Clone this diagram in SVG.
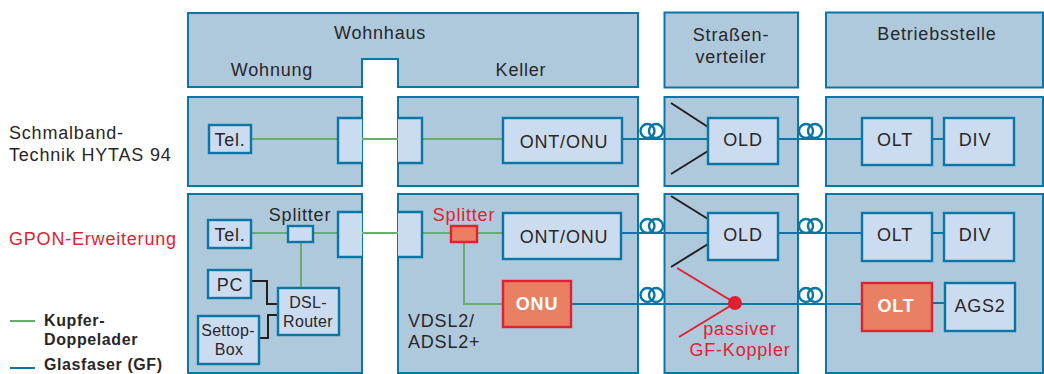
<svg xmlns="http://www.w3.org/2000/svg" width="1044" height="374" viewBox="0 0 1044 374">
<style>
text{font-family:"Liberation Sans",Arial,sans-serif;font-size:18px;letter-spacing:.8px;fill:#2a2627;text-anchor:middle}
.l{text-anchor:start}
.r{fill:#e02230}
.w{fill:#fff;font-weight:700}
.b{font-weight:700;font-size:16px;letter-spacing:.6px;text-anchor:start}
.s{font-size:16px;letter-spacing:.3px}
.p{fill:#aec9dc;stroke:#0a76a5;stroke-width:2}
.n{fill:#cbdcf1;stroke:#0a76a5;stroke-width:2.4}
.h{fill:#e98064;stroke:#e02230;stroke-width:2.4}
.g,.f,.k,.d,.c{fill:none}
.g{stroke:#66ad6e;stroke-width:2}
.f{stroke:#0a76a5;stroke-width:2}
.k{stroke:#231f20;stroke-width:2}
.d{stroke:#e02230;stroke-width:2}
.c{stroke:#0a76a5;stroke-width:2.4}
</style>
<g id="panels">
<path class="p" d="M188 13H638V87H398V59H362V87H188Z"/>
<rect class="p" x="664.500" y="12.500" width="133.500" height="75"/>
<rect class="p" x="826" y="12.500" width="217" height="75"/>
<rect class="p" x="188" y="97" width="174" height="89"/>
<rect class="p" x="398" y="97" width="240" height="89"/>
<rect class="p" x="664.500" y="97" width="133.500" height="89"/>
<rect class="p" x="826" y="97" width="217" height="89"/>
<rect class="p" x="188" y="194" width="174" height="179"/>
<rect class="p" x="398" y="194" width="240" height="179"/>
<rect class="p" x="664.500" y="194" width="133.500" height="179"/>
<rect class="p" x="826" y="194" width="217" height="179"/>
</g>
<g id="connectors">
<path class="g" d="M251 139H503M251 233H503M301 242V288M464 242V304H503"/>
<path class="f" d="M622 139H709M778 139H862M932 139H944M622 233H709M778 233H862M932 233H944M571 304H862M932 303H945"/>
<path class="k" d="M671 103L708 127M671 174L708 151M671 196L708 219M671 267L708 244M251 281H267V304H278M259 338H268V315H278"/>
<path class="d" d="M677 268L735 303L679 337"/>
<g class="c"><circle cx="647.500" cy="131" r="7"/><circle cx="656" cy="131" r="7"/><circle cx="806" cy="131" r="7"/><circle cx="815" cy="131" r="7"/><circle cx="647.500" cy="226" r="7"/><circle cx="656" cy="226" r="7"/><circle cx="806" cy="226" r="7"/><circle cx="815" cy="226" r="7"/><circle cx="647.500" cy="295" r="7"/><circle cx="656" cy="295" r="7"/><circle cx="806" cy="295" r="7"/><circle cx="815" cy="295" r="7"/></g>
</g>
<g id="headers">
<text x="380" y="39">Wohnhaus</text>
<text x="272" y="76">Wohnung</text>
<text x="521" y="76">Keller</text>
<text><tspan x="731" y="41">Straßen-</tspan><tspan x="731" y="63">verteiler</tspan></text>
<text x="937" y="40">Betriebsstelle</text>
<text class="l"><tspan x="9" y="139">Schmalband-</tspan><tspan x="9" y="160.500">Technik HYTAS 94</tspan></text>
<text class="l r" x="9" y="245">GPON-Erweiterung</text>
</g>
<g id="tel1"><rect class="n" x="209" y="125" width="42" height="28"/><text x="230" y="146">Tel.</text></g>
<g id="mdf1"><path class="n" d="M362 118H338V163H362"/></g>
<g id="mdf2"><path class="n" d="M398 118H422V163H398"/></g>
<g id="ont1"><rect class="n" x="503" y="118" width="119" height="45"/><text x="564" y="148">ONT/ONU</text></g>
<g id="old1"><rect class="n" x="708" y="118" width="70" height="46"/><text x="743" y="146">OLD</text></g>
<g id="olt1"><rect class="n" x="862" y="118" width="70" height="47"/><text x="895" y="146">OLT</text></g>
<g id="div1"><rect class="n" x="944" y="118" width="70" height="47"/><text x="975" y="146">DIV</text></g>
<g id="tel2"><rect class="n" x="208" y="220" width="43" height="28"/><text x="230" y="241">Tel.</text></g>
<g id="splitter1"><rect class="n" x="288" y="226" width="25" height="16"/><text x="300" y="221">Splitter</text></g>
<g id="mdf3"><path class="n" d="M362 212H338V257H362"/></g>
<g id="mdf4"><path class="n" d="M398 212H422V257H398"/></g>
<g id="pc"><rect class="n" x="208" y="270" width="43" height="28"/><text x="230" y="291">PC</text></g>
<g id="router"><rect class="n" x="278" y="288" width="61" height="47"/><text class="s"><tspan x="308" y="308">DSL-</tspan><tspan x="308" y="327">Router</tspan></text></g>
<g id="settop"><rect class="n" x="198" y="316" width="61" height="48"/><text class="s"><tspan x="228" y="336">Settop-</tspan><tspan x="229" y="355">Box</tspan></text></g>
<g id="splitter2"><rect class="h" x="451" y="226" width="26" height="16"/><text class="r" x="464" y="221">Splitter</text></g>
<g id="ont2"><rect class="n" x="503" y="213" width="118" height="46"/><text x="564" y="243">ONT/ONU</text></g>
<g id="onu"><rect class="h" x="503" y="281" width="68" height="46"/><text class="w" x="537" y="310">ONU</text></g>
<g id="vdsl"><text class="l"><tspan x="408" y="327">VDSL2/</tspan><tspan x="408" y="348">ADSL2+</tspan></text></g>
<g id="old2"><rect class="n" x="708" y="213" width="70" height="47"/><text x="743" y="241">OLD</text></g>
<g id="coupler"><circle cx="735" cy="303" r="7" fill="#e02230"/><text class="r"><tspan x="740" y="335">passiver</tspan><tspan x="740" y="356">GF-Koppler</tspan></text></g>
<g id="olt2"><rect class="n" x="862" y="213" width="70" height="48"/><text x="895" y="241">OLT</text></g>
<g id="div2"><rect class="n" x="944" y="213" width="70" height="48"/><text x="975" y="241">DIV</text></g>
<g id="olt3"><rect class="h" x="862" y="283" width="70" height="48"/><text class="w" x="896" y="312">OLT</text></g>
<g id="ags"><rect class="n" x="945" y="283" width="70" height="48"/><text x="980" y="312">AGS2</text></g>
<g id="legend">
<path class="g" d="M10 321H35"/><text class="b"><tspan x="44" y="326">Kupfer-</tspan><tspan x="44" y="345">Doppelader</tspan></text>
<path class="f" d="M10 368H35"/><text class="b" x="44" y="370">Glasfaser (GF)</text>
</g>
</svg>
